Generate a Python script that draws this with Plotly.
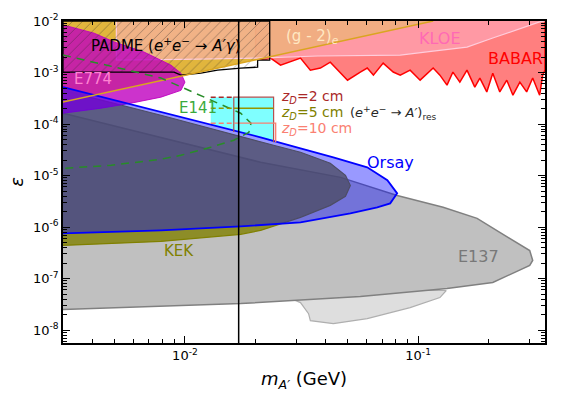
import math
import plotly.graph_objects as go

FONT = "DejaVu Sans"

# ---------------- data ----------------
# E137 (main beam-dump region)
e137_mass = [0.003, 0.00789, 0.0211, 0.0465, 0.0782, 0.0813, 0.128, 0.179, 0.224, 0.301, 0.310,
             0.301, 0.209, 0.133, 0.0565, 0.01734, 0.003]
e137_eps = [1.62e-4, 5.53e-5, 1.81e-5, 9.2e-6, 4.3e-6, 4.1e-6, 2.41e-6, 1.47e-6, 7.85e-7, 3.5e-7, 2.24e-7,
            1.79e-7, 8.4e-8, 6.4e-8, 4.47e-8, 3.26e-8, 2.49e-8]

# E137 extended (lighter region below)
e137b_mass = [0.0292, 0.0313, 0.0339, 0.0345, 0.0433, 0.0605, 0.0924, 0.124, 0.132, 0.0565]
e137b_eps = [3.9e-8, 3.41e-8, 2.08e-8, 1.52e-8, 1.33e-8, 1.67e-8, 2.73e-8, 4.27e-8, 5.85e-8, 5.85e-8]

# KEK
kek_mass = [0.003, 0.00789, 0.024, 0.0313, 0.042, 0.0488, 0.0512, 0.0488, 0.042, 0.0313, 0.0211,
            0.01734, 0.00789, 0.003]
kek_eps = [4.5e-4, 1.48e-4, 3.87e-5, 2.83e-5, 1.73e-5, 1.01e-5, 6.4e-6, 3.94e-6, 2.63e-6, 1.54e-6,
           8.6e-7, 7.2e-7, 5.25e-7, 4.39e-7]

# Orsay
orsay_mass = [0.003, 0.00789, 0.0211, 0.0313, 0.0433, 0.0605, 0.0738, 0.0813, 0.0759, 0.0668,
              0.0512, 0.0313, 0.01734, 0.00789, 0.003]
orsay_eps = [5.2e-4, 1.7e-4, 5.53e-5, 3.38e-5, 2.26e-5, 1.44e-5, 8.1e-6, 4.5e-6, 2.88e-6, 2.41e-6,
             1.84e-6, 1.23e-6, 1.03e-6, 8.6e-7, 7.5e-7]

# E774
e774_mass = [0.003, 0.00408, 0.00498, 0.00668, 0.00871, 0.00961, 0.0100, 0.00961, 0.00789, 0.00587,
             0.00437, 0.003]
e774_eps = [8.4e-3, 5.8e-3, 3.9e-3, 2.49e-3, 1.39e-3, 9.7e-4, 6.5e-4, 4.5e-4, 3.32e-4, 2.54e-4,
            2.03e-4, 1.62e-4]

# (g-2)_e boundary
g2e_mass = [0.003, 0.116]
g2e_eps = [2.66e-4, 1.0e-2]

# KLOE
kloe_mass = [0.00508, 0.00508, 0.0117, 0.0205, 0.037, 0.0838, 0.116, 0.162, 0.209, 0.265, 0.332, 0.35]
kloe_eps = [1.0e-2, 1.74e-3, 1.82e-3, 1.91e-3, 2.09e-3, 2.18e-3, 2.61e-3, 3.12e-3, 4.67e-3, 6.7e-3,
            9.6e-3, 1.0e-2]

# BABAR
babar_mass = [0.0201, 0.0201, 0.0224, 0.0233, 0.0257, 0.0292, 0.0313, 0.0345, 0.0381, 0.042, 0.0498,
              0.0565, 0.0605, 0.0643, 0.0708, 0.0782, 0.0838, 0.0924, 0.102, 0.116, 0.124, 0.133,
              0.141, 0.151, 0.162, 0.175, 0.184, 0.197, 0.209, 0.224, 0.240, 0.255, 0.273, 0.292,
              0.310, 0.332, 0.342, 0.35, 0.35]
babar_eps = [1.0e-2, 1.82e-3, 1.82e-3, 1.91e-3, 1.39e-3, 1.74e-3, 1.91e-3, 1.11e-3, 1.22e-3, 1.59e-3,
             7.1e-4, 1.02e-3, 1.22e-3, 8.9e-4, 1.52e-3, 1.02e-3, 8.9e-4, 1.11e-3, 7.1e-4, 1.22e-3,
             8.9e-4, 5.7e-4, 1.02e-3, 6.5e-4, 1.11e-3, 5.2e-4, 7.8e-4, 4.2e-4, 9.7e-4, 4.2e-4,
             7.1e-4, 3.63e-4, 6.5e-4, 4.2e-4, 7.8e-4, 3.63e-4, 8.9e-4, 1.11e-3, 1.0e-2]

# PADME projected reach (hatched)
padme_mass = [0.003, 0.0231, 0.0231, 0.0205, 0.0205, 0.01734, 0.0138, 0.0117, 0.00961, 0.00898, 0.003, 0.003]
padme_eps = [1.0e-2, 1.0e-2, 1.74e-3, 1.74e-3, 1.27e-3, 1.22e-3, 1.11e-3, 9.7e-4, 8.9e-4, 1.02e-3, 1.02e-3, 1.0e-2]

# E141 (dashed contour)
e141_mass = [0.003, 0.00408, 0.0057, 0.00789, 0.0099, 0.0121, 0.0143, 0.01734, 0.0192, 0.0188, 0.0162,
             0.0129, 0.00961, 0.00789, 0.00483, 0.00326, 0.003]
e141_eps = [2.18e-3, 1.59e-3, 1.11e-3, 7.8e-4, 5.0e-4, 3.32e-4, 2.43e-4, 1.62e-4, 1.04e-4, 6.9e-5,
            4.84e-5, 3.54e-5, 2.47e-5, 2.07e-5, 1.58e-5, 1.38e-5, 1.38e-5]

# resonant e+e- -> A' region (cyan) and z_D contours
res_mass = [0.0129, 0.024, 0.024, 0.0211, 0.0129]
res_eps = [3.32e-4, 3.32e-4, 4.42e-5, 5.53e-5, 9.7e-5]
res_mass_lo, res_mass_mid, res_mass_hi = 0.0129, 0.0162, 0.024
zd2_eps, zd5_eps, zd10_eps = 3.32e-4, 2.03e-4, 1.04e-4
zd_bottom_mid, zd_bottom_hi, zd10_mass_hi = 7.0e-5, 4.4e-5, 0.0245

# X17 mass line
x17_mass = 0.017

# axes
x_range = [0.003, 0.35]
y_range = [5.6e-9, 1.0e-2]
x_tickvals = [0.01, 0.1]
x_ticktext = ["10<sup>-2</sup>", "10<sup>-1</sup>"]
y_tickvals = [1e-8, 1e-7, 1e-6, 1e-5, 1e-4, 1e-3, 1e-2]
y_ticktext = ["10<sup>-8</sup>", "10<sup>-7</sup>", "10<sup>-6</sup>", "10<sup>-5</sup>",
              "10<sup>-4</sup>", "10<sup>-3</sup>", "10<sup>-2</sup>"]

# ---------------- figure ----------------
fig = go.Figure()

def region(mx, ey, fill, line_color=None, lw=1.0, **kw):
    fig.add_trace(go.Scatter(
        x=mx, y=ey, mode="lines", fill="toself", fillcolor=fill,
        line=dict(color=line_color or "rgba(0,0,0,0)", width=lw if line_color else 0),
        hoverinfo="skip", showlegend=False, **kw))

def curve(mx, ey, color, lw=1.0, dash="solid"):
    fig.add_trace(go.Scatter(x=mx, y=ey, mode="lines",
                             line=dict(color=color, width=lw, dash=dash),
                             hoverinfo="skip", showlegend=False))

region(e137b_mass, e137b_eps, "rgb(222,222,222)", "rgb(175,175,175)", 1.2)
region(e137_mass, e137_eps, "rgb(192,192,192)", "rgb(128,128,128)", 1.5)
region(kek_mass, kek_eps, "rgba(128,128,0,0.8)", "rgb(128,128,0)", 1.2)
region(babar_mass, babar_eps, "rgba(255,0,0,0.5)", "rgb(255,0,0)", 1.5)
region(g2e_mass + [0.003], g2e_eps + [1.0e-2], "rgba(222,175,45,0.92)")
region(kloe_mass, kloe_eps, "rgba(255,175,195,0.55)", "rgb(255,205,220)", 1.2)
region(e774_mass, e774_eps, "rgba(191,0,191,0.8)", "rgba(191,0,191,0.9)", 1.0)
region(res_mass, res_eps, "rgba(0,255,255,0.5)")
region(orsay_mass, orsay_eps, "rgba(0,0,255,0.4)", "rgb(0,0,255)", 1.8)

# PADME hatched region
fig.add_trace(go.Scatter(
    x=padme_mass, y=padme_eps, mode="lines", fill="toself", fillcolor="rgba(0,0,0,0)",
    fillpattern=dict(shape="/", fgcolor="rgba(40,40,40,0.85)", bgcolor="rgba(0,0,0,0)",
                     size=7, solidity=0.12, fillmode="overlay"),
    line=dict(color="black", width=1.3), hoverinfo="skip", showlegend=False))

# boundary lines
curve(g2e_mass, g2e_eps, "rgb(218,165,32)", 1.5)
curve(e141_mass, e141_eps, "rgb(40,140,40)", 1.5, dash="8px,6px")

# z_D contours
curve([res_mass_lo, res_mass_mid], [zd2_eps, zd2_eps], "rgb(165,42,42)", 1.5, dash="5px,3px")
curve([res_mass_mid, res_mass_mid, res_mass_hi, res_mass_hi],
      [zd_bottom_mid, zd2_eps, zd2_eps, zd_bottom_hi], "rgb(180,80,80)", 1.2)
curve([res_mass_lo, res_mass_mid], [zd5_eps, zd5_eps], "rgb(150,150,0)", 1.5, dash="5px,3px")
curve([res_mass_mid, res_mass_hi], [zd5_eps, zd5_eps], "rgb(150,150,0)", 1.5)
curve([res_mass_lo, res_mass_mid], [zd10_eps, zd10_eps], "rgb(250,128,114)", 1.5, dash="5px,3px")
curve([res_mass_mid, zd10_mass_hi, zd10_mass_hi], [zd10_eps, zd10_eps, zd_bottom_hi],
      "rgb(250,128,114)", 1.3)

# X17 line
curve([x17_mass, x17_mass], y_range, "black", 1.5)

# ---------------- labels ----------------
L = math.log10

def label(xv, yv, text, color, size=15, xanchor="center"):
    fig.add_annotation(x=L(xv), y=L(yv), xref="x", yref="y", text=text, showarrow=False,
                       font=dict(family=FONT, size=size, color=color), xanchor=xanchor,
                       yanchor="middle")

label(0.00389, 3.41e-3,
      "PADME (<i>e</i><sup>+</sup><i>e</i><sup>−</sup> → <i>A′γ</i>)", "black", 15, "left")
label(0.00405, 7.4e-4, "E774", "rgb(255,130,210)", 15)
label(0.01137, 2.03e-4, "E141", "rgb(60,170,60)", 15)
label(0.0349, 5.1e-3, "(g - 2)<sub><i>e</i></sub>", "rgb(255,232,195)", 15)
label(0.124, 4.48e-3, "KLOE", "rgb(255,105,180)", 16)
label(0.262, 1.91e-3, "BABAR", "rgb(255,0,0)", 16)
label(0.0252, 3.32e-4, "<i>z<sub>D</sub></i>=2 cm", "rgb(170,40,40)", 14, "left")
label(0.0252, 1.62e-4, "<i>z<sub>D</sub></i>=5 cm", "rgb(128,128,0)", 14, "left")
label(0.0252, 7.9e-5, "<i>z<sub>D</sub></i>=10 cm", "rgb(250,128,114)", 14, "left")
label(0.0502, 1.62e-4, "(<i>e</i><sup>+</sup><i>e</i><sup>−</sup> → <i>A′</i>)<sub>res</sub>",
      "rgb(40,40,40)", 13, "left")
label(0.0759, 1.81e-5, "Orsay", "rgb(0,0,255)", 16)
label(0.00943, 3.5e-7, "KEK", "rgb(128,128,0)", 15)
label(0.1823, 2.68e-7, "E137", "rgb(120,120,120)", 16)

# axis titles
fig.add_annotation(x=0.5, y=-0.115, xref="paper", yref="paper",
                   text="<i>m</i><sub><i>A′</i></sub> (GeV)", showarrow=False,
                   font=dict(family=FONT, size=18, color="black"), yanchor="middle")
fig.add_annotation(x=-0.098, y=0.5, xref="paper", yref="paper", text="<i>ε</i>",
                   showarrow=False, textangle=-90,
                   font=dict(family=FONT, size=18, color="black"), xanchor="center")

x_minor = [m * d for d in (0.001, 0.01, 0.1) for m in range(2, 10)]
x_minor = [v for v in x_minor if 0.003 <= v <= 0.35]
y_minor = [m * 10.0 ** e for e in range(-9, -2) for m in range(2, 10)]

axis_common = dict(type="log", showgrid=False, zeroline=False, showline=True,
                   linecolor="black", linewidth=1.5, mirror="allticks",
                   ticks="inside", ticklen=7, tickwidth=1, tickcolor="black",
                   automargin=False,
                   tickfont=dict(family=FONT, size=13, color="black"))

fig.update_xaxes(range=[L(x_range[0]), L(x_range[1])], tickmode="array",
                 tickvals=x_tickvals, ticktext=x_ticktext,
                 minor=dict(tickmode="array", tickvals=x_minor, ticks="inside", ticklen=4,
                            tickcolor="black"),
                 **axis_common)
fig.update_yaxes(range=[L(y_range[0]), L(y_range[1])], tickmode="array",
                 tickvals=y_tickvals, ticktext=y_ticktext,
                 minor=dict(tickmode="array", tickvals=y_minor, ticks="inside", ticklen=4,
                            tickcolor="black"),
                 **axis_common)

# the page body adds an 8px offset, so the figure is sized to fill the rest of the window
fig.update_layout(width=564, height=388, margin=dict(l=55, r=27, t=13, b=53),
                  paper_bgcolor="white", plot_bgcolor="white", showlegend=False,
                  font=dict(family=FONT))

fig.write_html("out.html")
